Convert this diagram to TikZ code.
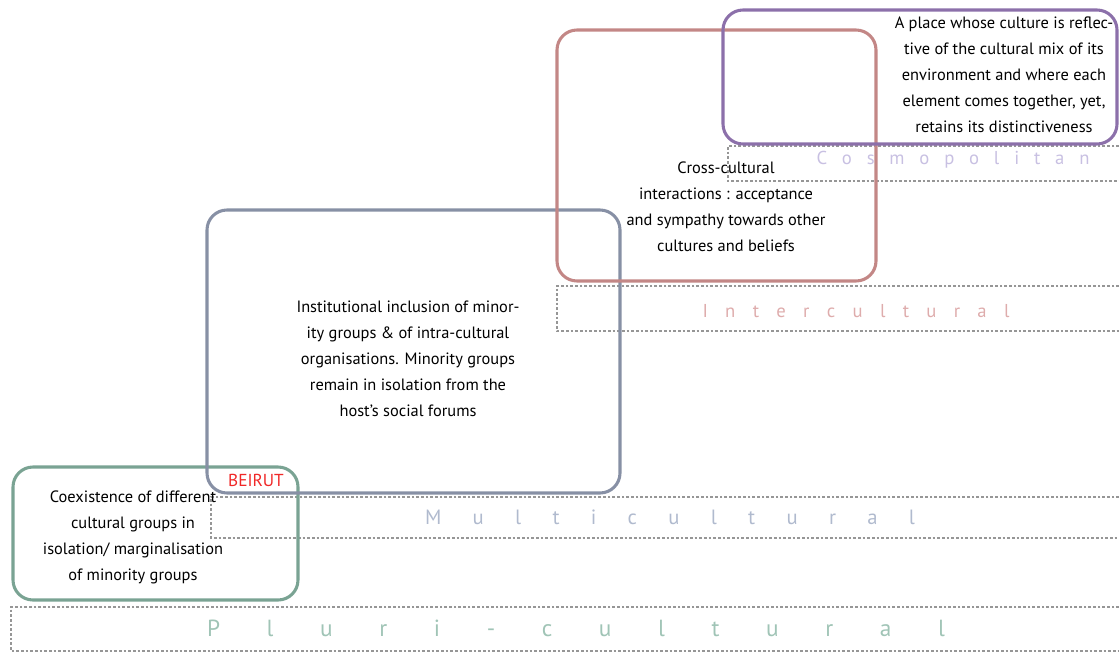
\documentclass[tikz,border=0pt]{standalone}
\usepackage{fontspec}
\setmainfont{PT Sans}
\usepackage{xcolor}
\usepackage{tikz}

\definecolor{pluriLine}{RGB}{122,163,147}
\definecolor{multiLine}{RGB}{135,144,165}
\definecolor{interLine}{RGB}{195,135,134}
\definecolor{cosmoLine}{RGB}{140,112,170}
\definecolor{pluriText}{RGB}{160,196,182}
\definecolor{multiText}{RGB}{176,186,206}
\definecolor{interText}{RGB}{222,172,172}
\definecolor{cosmoText}{RGB}{200,192,226}
\definecolor{bandGray}{RGB}{150,150,150}
\definecolor{beirutRed}{RGB}{240,40,40}

\tikzset{
  cbox/.style={rounded corners=15pt, line width=2.3pt},
  band/.style={draw=bandGray, line width=0.9pt, dash pattern=on 2pt off 1.5pt},
  desc/.style={align=center, inner sep=0pt, font=\fontsize{12.3}{19.5}\selectfont},
  bandlabel/.style={inner sep=0pt}
}

\begin{document}
\begin{tikzpicture}[x=0.75pt,y=0.75pt,yscale=-1,xscale=1]
\useasboundingbox (0,0) rectangle (1119,653);
%Bands
\draw [band] (1119,607) -| (11,651) -- (1119,651) ;
\draw [band] (1119,497) -| (211,538) -- (1119,538) ;
\draw [band] (1119,286) -| (557,331) -- (1119,331) ;
\draw [band] (1119,146) -| (728,181) -- (1119,181) ;
%Rounded boxes
\draw [cbox, draw=pluriLine] (13,467) rectangle (298,600) ;
\draw [cbox, draw=multiLine] (207,210) rectangle (620,493) ;
\draw [cbox, draw=interLine] (557,30) rectangle (876,281) ;
\draw [cbox, draw=cosmoLine] (723,10) rectangle (1117,144) ;
% Band labels
\node (pluriLabel) at (576,628) [bandlabel, text=pluriText, font=\fontsize{17.5}{20}\selectfont] {\makebox[553.5pt][s]{P l u r i - c u l t u r a l}};
\node (multiLabel) at (670,517) [bandlabel, text=multiText, font=\fontsize{15.5}{18}\selectfont] {\makebox[367.5pt][s]{M u l t i c u l t u r a l}};
\node (interLabel) at (856,311) [bandlabel, text=interText, font=\fontsize{14}{17}\selectfont] {\makebox[230.25pt][s]{I n t e r c u l t u r a l}};
\node (cosmoLabel) at (953,160) [bandlabel, text=cosmoText, font=\fontsize{14}{17}\selectfont] {\makebox[204.75pt][s]{C o s m o p o l i t a n}};
% Text Node
\node (pluriDesc) at (133,537) [desc] {Coexistence of different\\cultural groups in\\isolation/ marginalisation\\of minority groups};
% Text Node
\node (multiDesc) at (408,359) [desc] {Institutional inclusion of minor-\\ity groups \& of intra-cultural\\organisations. Minority groups\\remain in isolation from the\\host's social forums};
% Text Node
\node (interDesc) at (726,207) [desc] {Cross-cultural\\interactions : acceptance\\and sympathy towards other\\cultures and beliefs};
% Text Node
\node (cosmoDesc) at (1004,75) [desc] {A place whose culture is reflec-\\tive of the cultural mix of its\\environment and where each\\element comes together, yet,\\retains its distinctiveness};
% Text Node
\node (beirut) at (256,480) [inner sep=0pt, text=beirutRed, font=\fontsize{13}{15}\selectfont] {BEIRUT};
\end{tikzpicture}
\end{document}
